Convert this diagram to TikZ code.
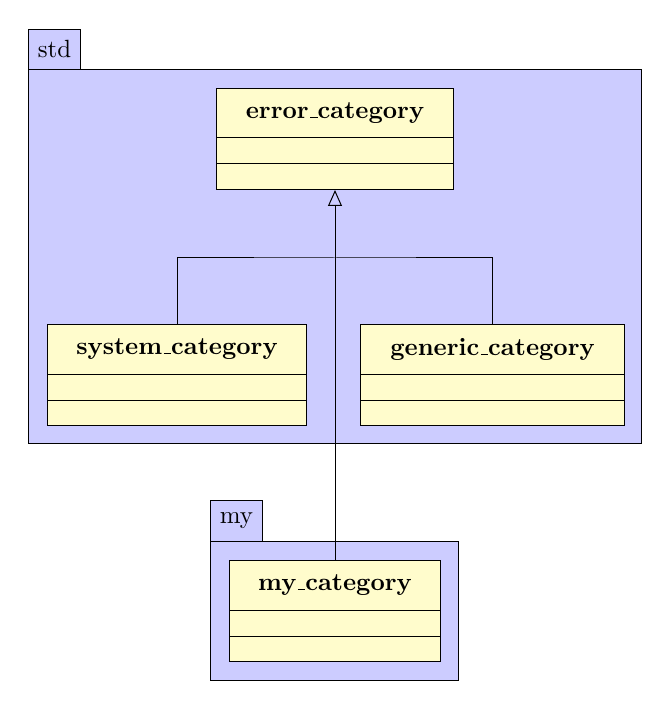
\documentclass[tikz,border=0pt]{standalone}
\usepackage{tikz}
\usetikzlibrary{shapes,arrows,arrows.meta,positioning,calc}

\def\px{0.4015pt}
\newcommand{\usc}{\leavevmode\kern.06em\vbox{\hrule width.3em}}
\tikzset{
    pkgtab/.style={draw, fill=blue!20, anchor=north west, inner sep=0pt, minimum height=40*\px},
    pkgbody/.style={draw, fill=blue!20, anchor=north west, inner sep=0pt},
    umlclass/.style={draw, fill=yellow!20, anchor=north west, inner sep=0pt, minimum height=101*\px},
    inherit/.style={-{Triangle[open, length=6.4pt, width=5.6pt]}}
}

% class box: name, x, y, width, title
\newcommand{\umlbox}[5]{%
    \node[umlclass, minimum width=#4*\px] (#1) at (#2,#3) {};
    \node[font=\bfseries] (#1-title) at ($(#1.north)+(0,25)$) {#5};
    \draw ($(#1.north west)+(0,50)$) -- ($(#1.north east)+(0,50)$);
    \draw ($(#1.north west)+(0,76)$) -- ($(#1.north east)+(0,76)$);
}

\begin{document}
\begin{tikzpicture}[x=\px, y=-\px]
    \useasboundingbox (0,0) rectangle (670,708);

    % Packages
    \node[pkgtab, minimum width=52*\px] (stdtab) at (28,29) {std};
    \node[pkgbody, minimum width=613*\px, minimum height=374*\px] (stdpkg) at (28,69) {};
    \node[pkgtab, minimum width=52*\px, minimum height=41*\px] (mytab) at (210,500) {my};
    \node[pkgbody, minimum width=248*\px, minimum height=139*\px] (mypkg) at (210,541) {};

    % Classes
    \umlbox{errcat}{216}{88}{237}{error\usc category}
    \umlbox{syscat}{47}{324}{259}{system\usc category}
    \umlbox{gencat}{360}{324}{264}{generic\usc category}
    \umlbox{mycat}{229}{560}{211}{my\usc category}

    % Inheritance
    \coordinate (junc) at ($(errcat.south)+(0,68)$);
    \draw (syscat.north) |- (junc) -| (gencat.north);
    \draw[inherit] (mycat.north) -- (errcat.south);
\end{tikzpicture}
\end{document}
